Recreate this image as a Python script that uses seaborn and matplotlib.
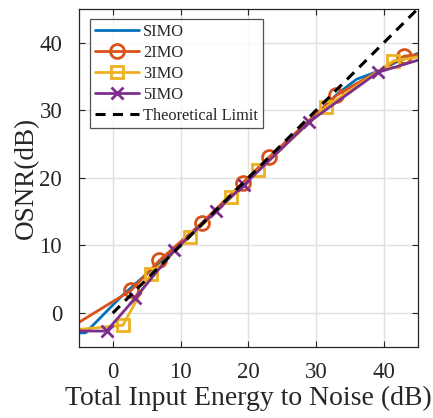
import pandas as pd
import matplotlib
matplotlib.use("Agg")
import matplotlib.pyplot as plt
import seaborn as sns

# Data (points outside the view get clipped)
simo_x = [-7, -4, 1.3, 5, 10, 15, 20, 25, 30, 33, 36, 39, 42, 47]
simo_y = [-3.0, -2.9, 2.5, 5.8, 10, 15, 19.8, 24.5, 29.2, 32.3, 34.6, 35.7, 37.2, 39.2]

imo2_x = [-7, 2.7, 6.9, 13.1, 19.2, 23.1, 33.0, 43.0, 47]
imo2_y = [-2.6, 3.35, 7.8, 13.3, 19.3, 23.1, 32.2, 38.0, 38.4]

imo3_x = [-7, 1.5, 5.65, 11.4, 17.45, 21.5, 31.5, 41.4, 47]
imo3_y = [-2.6, -1.8, 5.8, 11.3, 17.1, 21.1, 30.5, 37.3, 38.2]

imo5_x = [-7, -0.9, 3.3, 9.1, 15.2, 19.3, 29.0, 39.1, 47]
imo5_y = [-2.65, -2.65, 2.2, 9.3, 15.05, 18.9, 28.3, 35.6, 38.0]

theory_x = [0, 45]
theory_y = [0, 45]

sns.set_theme(style="whitegrid")
plt.rcParams["font.family"] = ["Liberation Serif", "DejaVu Serif"]

fig, ax = plt.subplots(figsize=(4.33, 4.18), dpi=100)
fig.subplots_adjust(left=0.182, right=0.965, top=0.979, bottom=0.17)

# seaborn defaults marker edges to white, so set them explicitly
sns.lineplot(x=simo_x, y=simo_y, ax=ax, color="#0072BD", linewidth=2,
             linestyle="-", sort=False, estimator=None, label="SIMO")
sns.lineplot(x=imo2_x, y=imo2_y, ax=ax, color="#D95319", linewidth=2,
             linestyle="-", sort=False, estimator=None, label="2IMO",
             marker="o", markersize=10, markerfacecolor="none",
             markeredgecolor="#D95319", markeredgewidth=2)
sns.lineplot(x=imo3_x, y=imo3_y, ax=ax, color="#EDB120", linewidth=2,
             linestyle="-", sort=False, estimator=None, label="3IMO",
             marker="s", markersize=9, markerfacecolor="none",
             markeredgecolor="#EDB120", markeredgewidth=2)
sns.lineplot(x=imo5_x, y=imo5_y, ax=ax, color="#7E2F8E", linewidth=2,
             linestyle="-", sort=False, estimator=None, label="5IMO",
             marker="x", markersize=9, markeredgecolor="#7E2F8E",
             markeredgewidth=2)
sns.lineplot(x=theory_x, y=theory_y, ax=ax, color="black", linewidth=2.2,
             linestyle=(0, (3.3, 2.4)), sort=False, estimator=None,
             label="Theoretical Limit")

ax.set_xlim(-5, 45)
ax.set_ylim(-5, 45)
ax.set_xticks([0, 10, 20, 30, 40])
ax.set_yticks([0, 10, 20, 30, 40])
ax.set_facecolor("white")
ax.grid(True, color="#e0e0e0", lw=1)
for s in ax.spines.values():
    s.set_color("#262626")
    s.set_linewidth(0.9)
ax.tick_params(direction="in", length=4, width=0.8, color="#262626",
               labelsize=16.5, labelcolor="#262626", top=True, right=True,
               bottom=True, left=True)
ax.tick_params(axis="x", pad=11)
ax.tick_params(axis="y", pad=12)

ax.set_xlabel("Total Input Energy to Noise (dB)", fontsize=20, color="#262626",
              labelpad=2)
ax.set_ylabel("OSNR(dB)", fontsize=19.5, color="#262626", labelpad=0)

leg = ax.legend(loc="upper left", bbox_to_anchor=(0.033, 0.97), fontsize=11.8,
                frameon=True, fancybox=False, edgecolor="#262626",
                handlelength=2.7, handletextpad=0.25, borderpad=0.3,
                labelspacing=0.3, borderaxespad=0)
leg.get_frame().set_linewidth(0.9)
for t in leg.get_texts():
    t.set_color("#262626")

plt.savefig("out.png", dpi=100)
